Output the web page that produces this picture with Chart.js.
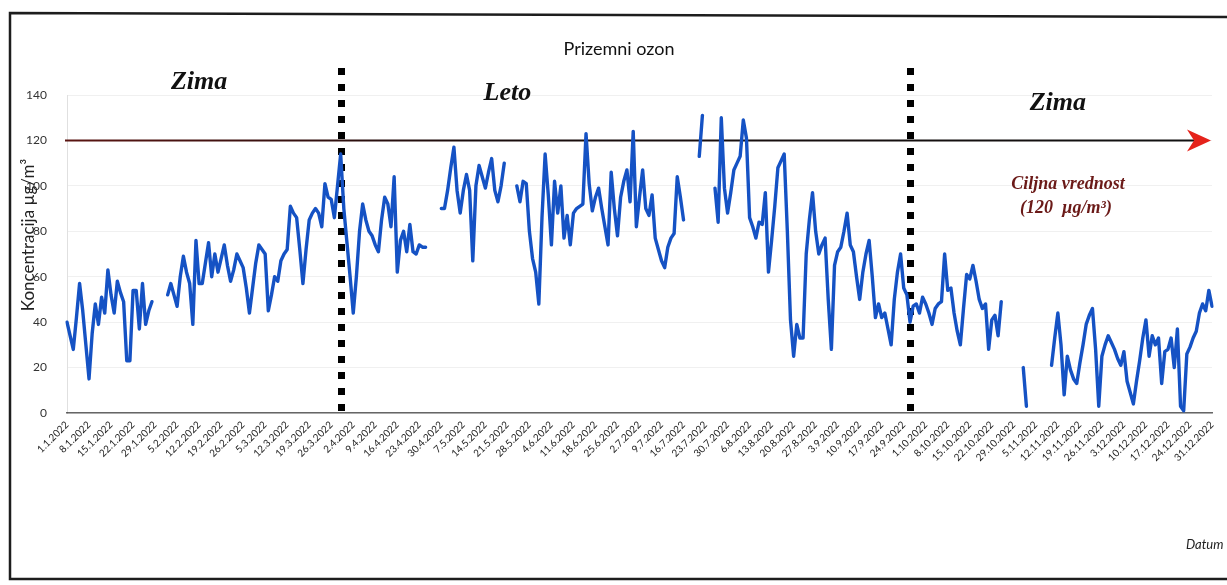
<!DOCTYPE html>
<html>
<head>
<meta charset="utf-8">
<title>Prizemni ozon 2022</title>
<script src="https://cdn.jsdelivr.net/npm/chart.js@4.4.1/dist/chart.umd.min.js"></script>
<style>
  html, body { margin: 0; padding: 0; background: #fff; }
  #wrap { width: 1227px; height: 585px; position: relative; }
  canvas { display: block; }
</style>
</head>
<body>
<div id="wrap"><canvas id="chart" width="1227" height="585"></canvas></div>
<script>
// Daily ground-level ozone, µg/m³, 2022 (null = no measurement)
const jan = [40,34,28,42,57,45,30,15,35,48,39,51,44,63,52,44,58,53,49,23,23,54,54,37,57,39,45,49,null,null,null];
const feb = [null,52,57,52,47,60,69,62,57,39,76,57,57,66,75,60,70,62,68,74,65,58,63,70,67,64,55,44];
const mar = [55,66,74,72,70,45,52,60,58,67,70,72,91,88,86,72,57,72,85,88,90,88,82,101,95,94,86,100,114,90,75];
const apr = [60,44,60,80,92,85,80,78,74,71,85,95,92,82,104,62,76,80,71,83,71,70,74,73,73,null,null,null,null,90];
const may = [90,98,108,117,98,88,98,105,98,67,100,109,104,99,106,112,98,93,100,110,null,null,null,100,93,102,101,80,68,62,48];
const jun = [86,114,96,74,102,88,100,77,87,74,88,90,91,92,123,101,89,95,99,90,82,74,106,90,78,95,102,107,93,124];
const jul = [82,95,107,90,87,96,77,72,67,64,73,77,79,104,95,85,null,null,null,null,113,131,null,null,null,99,84,130,99,88,97];
const aug = [107,110,113,129,121,86,82,77,84,83,97,62,76,91,108,111,114,80,41,25,39,33,33,70,85,97,80,70,74,77,50];
const sep = [28,65,71,73,80,88,74,71,60,50,62,70,76,60,42,48,42,44,37,30,50,62,70,55,52,40,47,48,44,51];
const oct = [48,44,39,46,48,49,70,54,55,44,36,30,46,61,59,65,58,50,46,48,28,41,43,34,49,null,null,null,null,null,null];
const nov = [20,3,null,null,null,null,null,null,null,21,33,44,30,8,25,19,15,13,22,30,39,43,46,28,3,25,30,34,31,28];
const dec = [24,21,27,14,9,4,14,23,33,41,25,34,30,33,13,27,28,33,20,37,3,1,26,29,33,36,44,48,45,54,47];

const months = [jan, feb, mar, apr, may, jun, jul, aug, sep, oct, nov, dec];

// Category labels "d.m.2022", one per day
const dayLabels = [];
months.forEach((m, mi) => m.forEach((_, di) => dayLabels.push(`${di + 1}.${mi + 1}.2022`)));
const ozone = [].concat(...months);

const yTicks = [0, 20, 40, 60, 80, 100, 120, 140];
const tickEvery = 7;                    // a date label every week
const targetValue = 120;                // ciljna vrednost
const seasonBreaks = ['29.3.2022', '26.9.2022'];
const seasonNames = [
  { text: 'Zima', at: '12.2.2022', y: 82 },
  { text: 'Leto', at: '21.5.2022', y: 93 },
  { text: 'Zima', at: '12.11.2022', y: 103 }
];

const decor = {
  id: 'decor',
  beforeDraw(chart) {
    const { ctx, width, height } = chart;
    ctx.save();
    ctx.fillStyle = '#fff';
    ctx.fillRect(0, 0, width, height);
    // page frame
    ctx.strokeStyle = '#1d1d1d';
    ctx.lineWidth = 2.5;
    ctx.beginPath();
    ctx.moveTo(1230, 17);
    ctx.lineTo(10, 13);
    ctx.lineTo(10, 579);
    ctx.lineTo(1230, 579);
    ctx.stroke();
    ctx.restore();
  },
  beforeDatasetsDraw(chart) {
    const { ctx, chartArea: a, scales: { x, y } } = chart;
    ctx.save();
    // season dividers (square dots)
    ctx.fillStyle = '#000';
    seasonBreaks.forEach(lbl => {
      const px = Math.round(x.getPixelForValue(dayLabels.indexOf(lbl)));
      for (let yy = 68; yy < a.bottom; yy += 16) ctx.fillRect(px - 3, yy, 7, 7);
    });
    // target value line with arrow
    const ty = Math.round(y.getPixelForValue(targetValue)) + 0.5;
    const grad = ctx.createLinearGradient(a.left, 0, a.right, 0);
    grad.addColorStop(0, '#5a1512');
    grad.addColorStop(0.35, '#1a0c0c');
    grad.addColorStop(1, '#111');
    ctx.strokeStyle = grad;
    ctx.lineWidth = 2;
    ctx.beginPath();
    ctx.moveTo(a.left - 2, ty);
    ctx.lineTo(1196, ty);
    ctx.stroke();
    const tip = 1211;
    ctx.fillStyle = '#e5231b';
    ctx.beginPath();
    ctx.moveTo(tip, ty);
    ctx.lineTo(1187, ty - 11);
    ctx.lineTo(1194, ty);
    ctx.lineTo(1187, ty + 11);
    ctx.closePath();
    ctx.fill();
    ctx.restore();
  },
  afterDraw(chart) {
    const { ctx, scales: { x } } = chart;
    ctx.save();
    ctx.textAlign = 'center';
    ctx.textBaseline = 'middle';
    // title
    ctx.fillStyle = '#111';
    ctx.font = '18px Lato';
    ctx.fillText('Prizemni ozon', 619, 49);
    // season names
    ctx.font = 'italic bold 26px "Liberation Serif"';
    seasonNames.forEach(s => {
      ctx.fillText(s.text, x.getPixelForValue(dayLabels.indexOf(s.at)), s.y);
    });
    // target label
    ctx.fillStyle = '#6b1a18';
    ctx.font = 'italic bold 18px "Liberation Serif"';
    ctx.fillText('Ciljna vrednost', 1068, 184);
    ctx.fillText('(120  µg/m³)', 1066, 208);
    // axis titles
    ctx.fillStyle = '#222';
    ctx.font = 'italic 13px Lato';
    ctx.textAlign = 'left';
    ctx.fillText('Datum', 1186, 545);
    ctx.translate(29, 235);
    ctx.rotate(-Math.PI / 2);
    ctx.textAlign = 'center';
    ctx.font = '17px Lato';
    ctx.fillText('Koncentracija µg/m³', 0, 0);
    ctx.restore();
  }
};

new Chart(document.getElementById('chart'), {
  type: 'line',
  data: {
    labels: dayLabels,
    datasets: [
      {
        data: ozone,
        borderColor: '#1552c4',
        borderWidth: 3.4,
        borderJoinStyle: 'round',
        borderCapStyle: 'round',
        pointRadius: 0,
        tension: 0,
        spanGaps: false
      },
      {
        data: ozone,
        borderColor: 'rgba(52,150,235,0.8)',
        borderWidth: 1.1,
        borderJoinStyle: 'round',
        pointRadius: 0,
        tension: 0,
        spanGaps: false
      }
    ]
  },
  options: {
    responsive: false,
    animation: false,
    devicePixelRatio: 1,
    layout: { padding: { top: 95, right: 15, bottom: 0, left: 0 } },
    plugins: { legend: { display: false }, tooltip: { enabled: false }, title: { display: false } },
    scales: {
      x: {
        type: 'category',
        offset: false,
        afterFit(scale) { scale.height = 172; },
        grid: { display: false, drawTicks: false },
        border: { display: true, color: '#666', width: 1.5 },
        ticks: {
          autoSkip: false,
          minRotation: 45,
          maxRotation: 45,
          padding: 6,
          color: '#1a1a1a',
          font: { family: 'Lato', size: 10 },
          callback(v, i) { return i % tickEvery === 0 ? this.getLabelForValue(v) : ''; }
        }
      },
      y: {
        min: yTicks[0],
        max: yTicks[yTicks.length - 1],
        afterFit(scale) { scale.width = 67; },
        afterBuildTicks(scale) { scale.ticks = yTicks.map(v => ({ value: v })); },
        grid: { color: 'rgba(0,0,0,0.06)', drawTicks: false },
        border: { display: true, color: 'rgba(0,0,0,0.12)' },
        ticks: {
          padding: 20,
          color: '#333',
          font: { family: 'Lato', size: 12 }
        }
      }
    }
  },
  plugins: [decor]
});
</script>
</body>
</html>
